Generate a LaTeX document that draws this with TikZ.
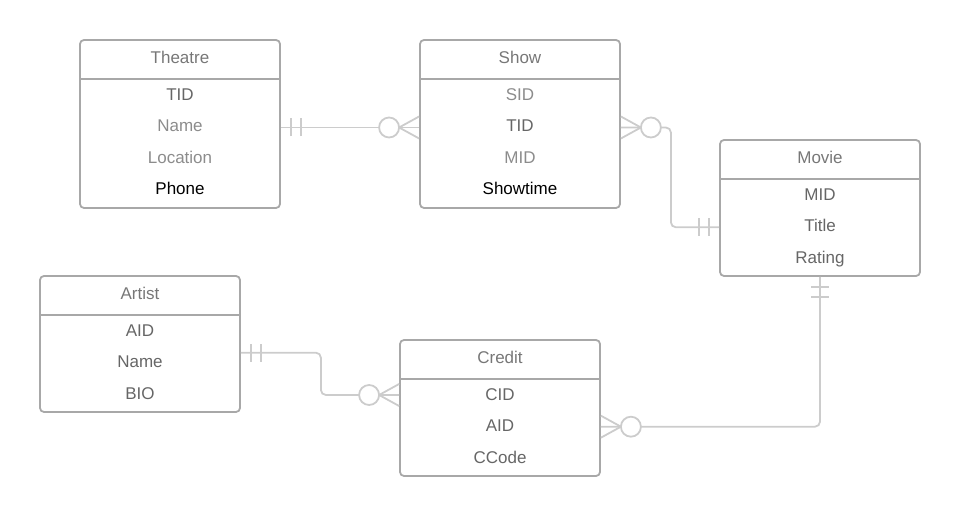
\documentclass[tikz,border=0pt]{standalone}
\usepackage{fontspec}
\setmainfont{Liberation Sans}
\definecolor{edge}{HTML}{A8A8A8}
\definecolor{link}{HTML}{CCCCCC}
\definecolor{head}{HTML}{777777}
\definecolor{dark}{HTML}{666666}
\definecolor{lite}{HTML}{8C8C8C}
\tikzset{
  entity/.style={draw=edge,line width=1.8pt,rounded corners=4pt,minimum width=200pt,inner sep=0pt},
  field/.style={inner sep=0pt,text height=12.2pt,text depth=0pt},
  conn/.style={draw=link,line width=1.8pt},
  one/.pic={\draw[conn] (10,-9) -- (10,9) (20,-9) -- (20,9);},
  many/.pic={\draw[conn] (0,11) -- (20,0) -- (0,-11);
    \draw[conn,fill=white] (30,0) circle (10);}
}
\begin{document}
\begin{tikzpicture}
  [x=1pt,y=1pt,every node/.style={font=\fontsize{17}{20}\selectfont}]
  \useasboundingbox (0,0) rectangle (960,516);
  \node[entity,minimum height=168pt] (theatre) at (180,392) {};
  \node[entity,minimum height=168pt] (show) at (520,392) {};
  \node[entity,minimum height=136pt] (movie) at (820,308) {};
  \node[entity,minimum height=136pt] (artist) at (140,172) {};
  \node[entity,minimum height=136pt] (credit) at (500,108) {};

  \foreach \ent/\title in {theatre/Theatre,show/Show,movie/Movie,artist/Artist,credit/Credit}{
    \node[field,text=head] (\ent-t) at ([yshift=-18.5]\ent.north) {\title};
    \draw[edge,line width=1.8pt] ([yshift=-40]\ent.north west) -- ([yshift=-40]\ent.north east);
  }

  \foreach \txt/\col [count=\i] in {TID/dark,Name/lite,Location/lite,Phone/black}
    \node[field,text=\col] (theatre-\i) at ([yshift=-55-31.6*(\i-1)]theatre.north) {\txt};
  \foreach \txt/\col [count=\i] in {SID/lite,TID/dark,MID/lite,Showtime/black}
    \node[field,text=\col] (show-\i) at ([yshift=-55-31.6*(\i-1)]show.north) {\txt};
  \foreach \txt [count=\i] in {MID,Title,Rating}
    \node[field,text=dark] (movie-\i) at ([yshift=-55-31.6*(\i-1)]movie.north) {\txt};
  \foreach \txt [count=\i] in {AID,Name,BIO}
    \node[field,text=dark] (artist-\i) at ([yshift=-55-31.6*(\i-1)]artist.north) {\txt};
  \foreach \txt [count=\i] in {CID,AID,CCode}
    \node[field,text=dark] (credit-\i) at ([yshift=-55-31.6*(\i-1)]credit.north) {\txt};

  % relationships
  \draw[conn] ([yshift=-3.5]theatre.east) -- ([yshift=-3.5]show.west);
  \draw[conn,rounded corners=5pt] ([yshift=-3.5]show.east) -- ++(50,0) |- ([yshift=-19.3]movie.west);
  \draw[conn,rounded corners=5pt] ([yshift=-8.7]artist.east) -- ++(80,0) |- ([yshift=13]credit.west);
  \draw[conn,rounded corners=5pt] ([yshift=-18.7]credit.east) -| (movie.south);

  \pic at ([yshift=-3.5]theatre.east) {one};
  \pic[rotate=180] at ([yshift=-3.5]show.west) {many};
  \pic at ([yshift=-3.5]show.east) {many};
  \pic[rotate=180] at ([yshift=-19.3]movie.west) {one};
  \pic at ([yshift=-8.7]artist.east) {one};
  \pic[rotate=180] at ([yshift=13]credit.west) {many};
  \pic at ([yshift=-18.7]credit.east) {many};
  \pic[rotate=-90] at (movie.south) {one};
\end{tikzpicture}
\end{document}
